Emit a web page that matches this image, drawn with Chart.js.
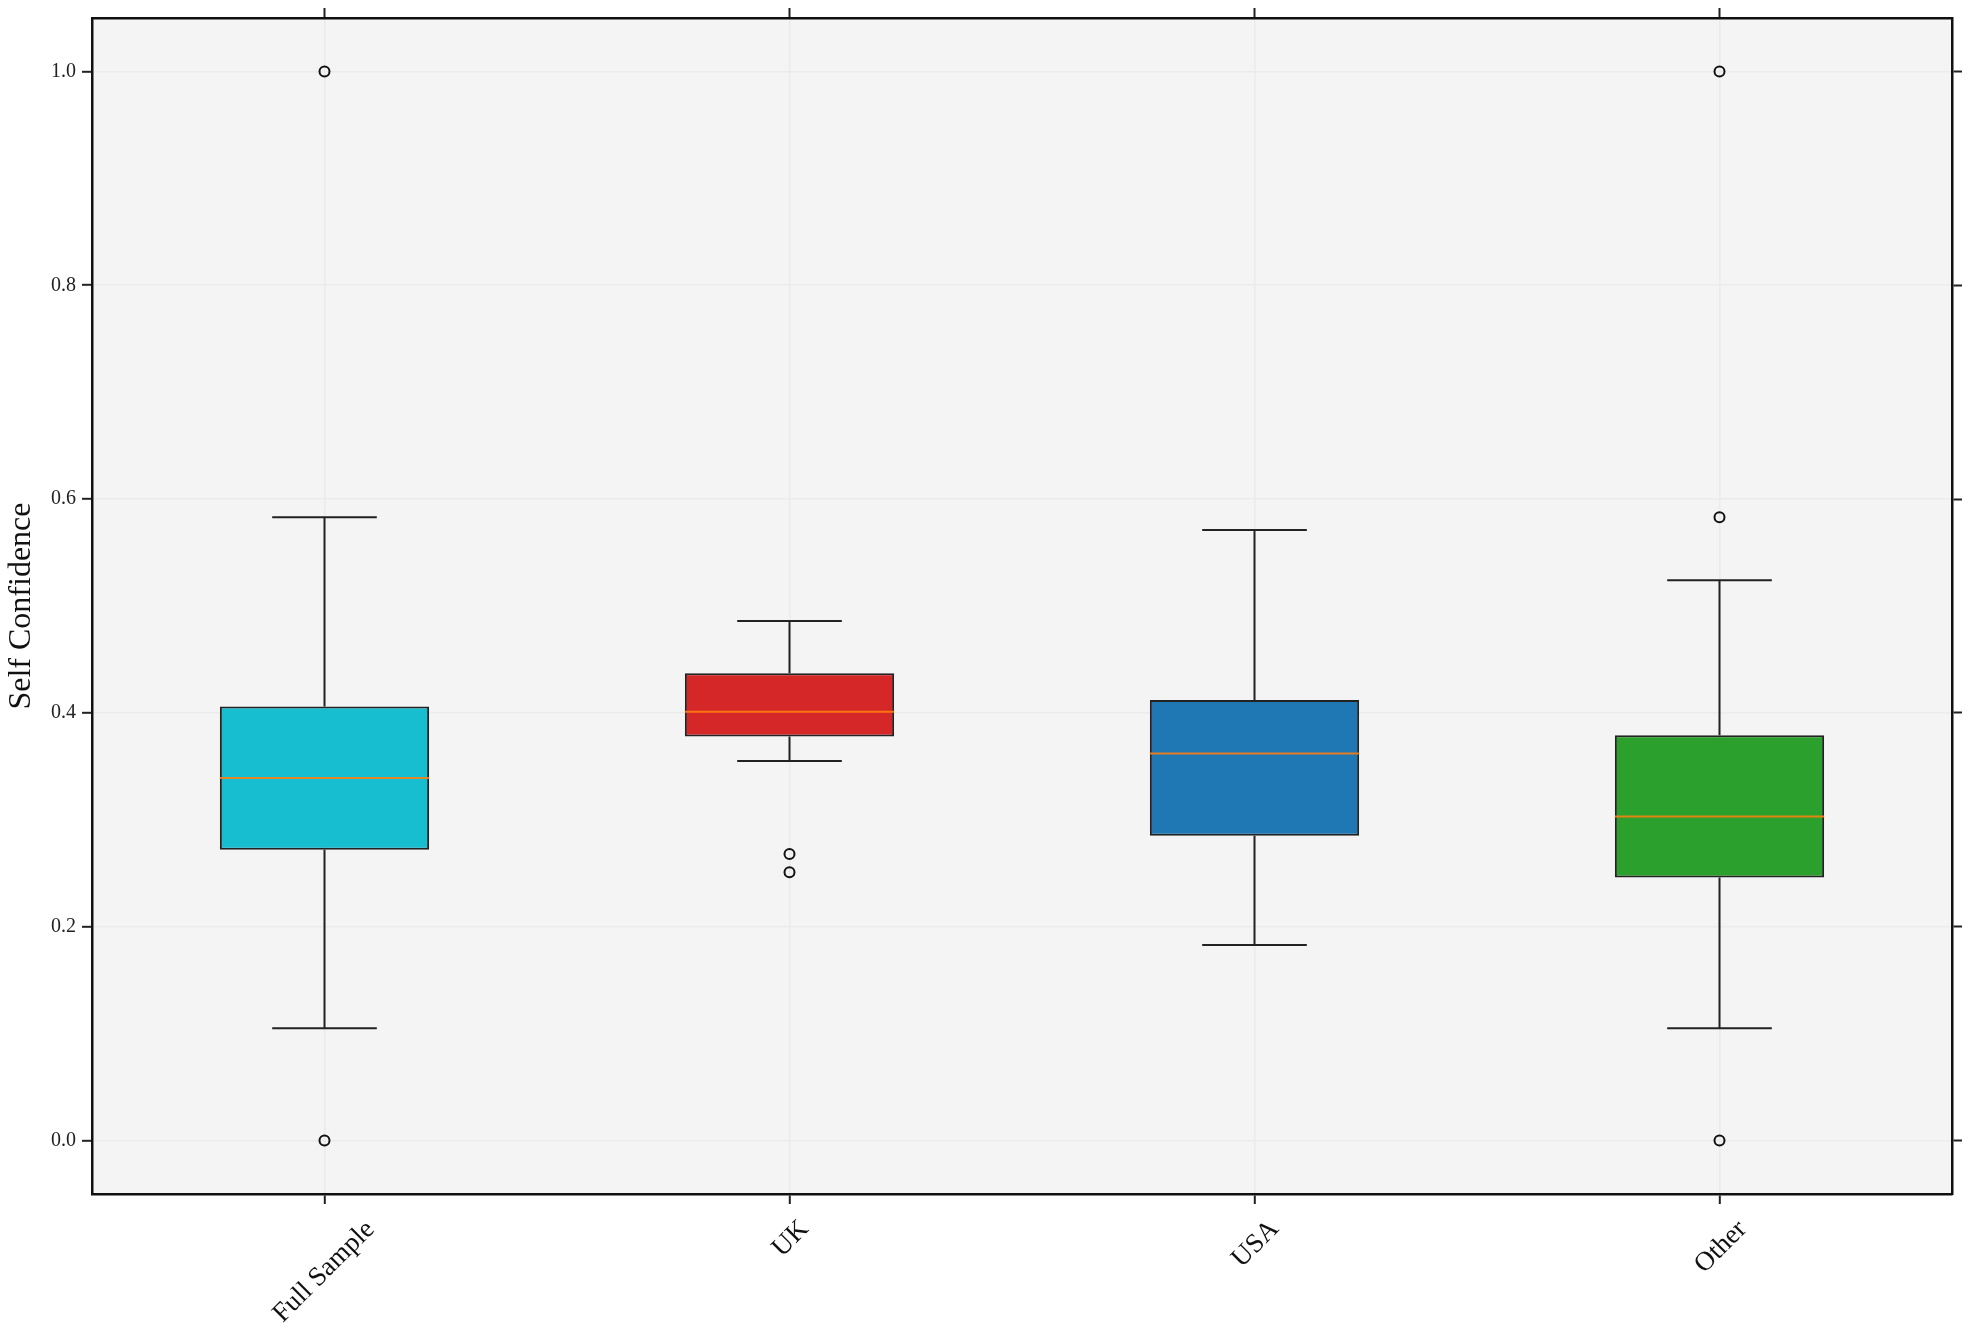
<!DOCTYPE html>
<html>
<head>
<meta charset="utf-8">
<script src="https://cdn.jsdelivr.net/npm/chart.js@4/dist/chart.umd.min.js"></script>
<style>
  html, body { margin: 0; padding: 0; background: #ffffff; }
  #wrap { width: 1970px; height: 1337px; position: relative; }
</style>
</head>
<body>
<div id="wrap"><canvas id="c"></canvas></div>
<script>
// ---- Data ----
const categories = ['Full Sample', 'UK', 'USA', 'Other'];
const boxColors = ['#17becf', '#d62728', '#1f77b4', '#2ca02c'];
const q1 = [0.272, 0.378, 0.285, 0.246];
const medians = [0.339, 0.401, 0.362, 0.303];
const q3 = [0.406, 0.437, 0.412, 0.379];
const whiskerLow = [0.105, 0.355, 0.183, 0.105];
const whiskerHigh = [0.583, 0.486, 0.571, 0.524];
const outliersFull = [1.0, 0.0];
const outliersUK = [0.268, 0.251];
const outliersUSA = [];
const outliersOther = [1.0, 0.583, 0.0];
const yTicks = [0.0, 0.2, 0.4, 0.6, 0.8, 1.0];
const yMin = -0.05, yMax = 1.05;
const yTitle = 'Self Confidence';

const outlierLists = [outliersFull, outliersUK, outliersUSA, outliersOther];
const outlierPoints = [];
outlierLists.forEach((list, i) => list.forEach(v => outlierPoints.push({x: categories[i], y: v})));

Chart.defaults.font.family = "'Liberation Serif', 'DejaVu Serif', serif";
Chart.defaults.color = '#222';

const bgPlugin = {
  id: 'plotBg',
  beforeDraw(chart) {
    const {ctx, chartArea: a} = chart;
    ctx.save();
    ctx.fillStyle = '#f4f4f4';
    ctx.fillRect(a.left, a.top, a.right - a.left, a.bottom - a.top);
    ctx.restore();
  }
};

const boxPlugin = {
  id: 'boxParts',
  afterDatasetsDraw(chart) {
    const {ctx} = chart;
    const xs = chart.scales.x, ys = chart.scales.y;
    const meta = chart.getDatasetMeta(0);
    ctx.save();
    categories.forEach((c, i) => {
      const bar = meta.data[i];
      const cx = xs.getPixelForValue(i);
      const half = bar.width / 2;
      const capHalf = bar.width / 4;
      ctx.strokeStyle = '#222';
      ctx.lineWidth = 2;
      ctx.beginPath();
      ctx.moveTo(cx, ys.getPixelForValue(q3[i]));
      ctx.lineTo(cx, ys.getPixelForValue(whiskerHigh[i]));
      ctx.moveTo(cx, ys.getPixelForValue(q1[i]));
      ctx.lineTo(cx, ys.getPixelForValue(whiskerLow[i]));
      const yh = ys.getPixelForValue(whiskerHigh[i]);
      const yl = ys.getPixelForValue(whiskerLow[i]);
      ctx.moveTo(cx - capHalf, yh); ctx.lineTo(cx + capHalf, yh);
      ctx.moveTo(cx - capHalf, yl); ctx.lineTo(cx + capHalf, yl);
      ctx.stroke();
      ctx.strokeStyle = 'rgba(255,127,14,0.88)';
      ctx.lineWidth = 2;
      const ym = ys.getPixelForValue(medians[i]);
      ctx.beginPath();
      ctx.moveTo(cx - half, ym); ctx.lineTo(cx + half, ym);
      ctx.stroke();
    });
    ctx.restore();
  },
  afterDraw(chart) {
    const {ctx} = chart;
    const xs = chart.scales.x;
    const top = chart.chartArea.bottom + 23;
    ctx.save();
    ctx.font = "27px 'Liberation Serif', 'DejaVu Serif', serif";
    ctx.fillStyle = '#111';
    ctx.textAlign = 'left';
    ctx.textBaseline = 'alphabetic';
    categories.forEach((c, i) => {
      const m = ctx.measureText(c);
      const inkW = m.actualBoundingBoxLeft + m.actualBoundingBoxRight;
      const inkH = m.actualBoundingBoxAscent + m.actualBoundingBoxDescent;
      const bboxH = (inkW + inkH) / Math.SQRT2;
      const cxInk = (m.actualBoundingBoxRight - m.actualBoundingBoxLeft) / 2;
      const cyInk = (m.actualBoundingBoxDescent - m.actualBoundingBoxAscent) / 2;
      ctx.save();
      ctx.translate(xs.getPixelForValue(i), top + bboxH / 2);
      ctx.rotate(-Math.PI / 4);
      ctx.fillText(c, -cxInk, -cyInk);
      ctx.restore();
    });
    ctx.restore();
  }
};

const setTicks = (scale) => { scale.ticks = yTicks.map(v => ({value: v})); };

new Chart(document.getElementById('c'), {
  type: 'bar',
  data: {
    labels: categories,
    datasets: [
      {
        type: 'bar',
        data: categories.map((c, i) => [q1[i], q3[i]]),
        backgroundColor: boxColors,
        borderColor: '#222',
        borderWidth: 2,
        borderSkipped: false,
        barPercentage: 0.45,
        categoryPercentage: 1.0,
        xAxisID: 'x',
        yAxisID: 'y',
        order: 2
      },
      {
        type: 'line',
        data: outlierPoints,
        showLine: false,
        pointStyle: 'circle',
        pointRadius: 5,
        pointBorderWidth: 2,
        pointBorderColor: '#111',
        pointBackgroundColor: 'rgba(0,0,0,0)',
        xAxisID: 'x',
        yAxisID: 'y',
        order: 1
      }
    ]
  },
  options: {
    responsive: true,
    maintainAspectRatio: false,
    devicePixelRatio: 1,
    animation: false,
    layout: { padding: 0 },
    plugins: { legend: { display: false }, tooltip: { enabled: false } },
    scales: {
      x: {
        type: 'category',
        position: 'bottom',
        offset: true,
        grid: { offset: false, color: '#ebebeb', lineWidth: 1.6, drawTicks: true, tickLength: 10, tickColor: '#222', tickWidth: 2 },
        border: { display: true, color: '#111', width: 2.5 },
        ticks: { display: false },
        afterFit: (s) => { s.height = 143; }
      },
      x2: {
        type: 'category',
        position: 'top',
        offset: true,
        grid: { offset: false, drawOnChartArea: false, drawTicks: true, tickLength: 10, tickColor: '#222', tickWidth: 2 },
        border: { display: true, color: '#111', width: 2.5 },
        ticks: { display: false },
        afterFit: (s) => { s.height = 18; }
      },
      y: {
        type: 'linear',
        position: 'left',
        min: yMin,
        max: yMax,
        afterBuildTicks: setTicks,
        grid: { color: '#ebebeb', lineWidth: 1.6, drawTicks: true, tickLength: 10, tickColor: '#222', tickWidth: 2 },
        border: { display: true, color: '#111', width: 2.5 },
        ticks: { padding: 6, color: '#222', font: { size: 20 }, callback: (v) => Number(v).toFixed(1) },
        title: { display: true, text: yTitle, color: '#111', font: { size: 32 }, padding: { top: 2, bottom: 0 } },
        afterFit: (s) => { s.width = 92; }
      },
      y2: {
        type: 'linear',
        position: 'right',
        min: yMin,
        max: yMax,
        afterBuildTicks: setTicks,
        grid: { drawOnChartArea: false, drawTicks: true, tickLength: 10, tickColor: '#222', tickWidth: 2 },
        border: { display: true, color: '#111', width: 2.5 },
        ticks: { display: false },
        afterFit: (s) => { s.width = 18; }
      }
    }
  },
  plugins: [bgPlugin, boxPlugin]
});
</script>
</body>
</html>
